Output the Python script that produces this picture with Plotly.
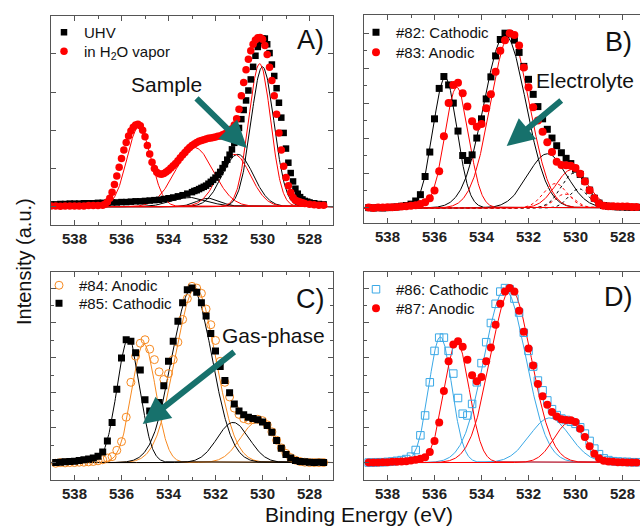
import numpy as np
import plotly.graph_objects as go

# ---------------- data ----------------
# Panel A (UHV vs H2O vapour), binding energies (eV) and intensities (a.u.)
A_UHV_E = [539.0, 538.8, 538.6, 538.4, 538.2, 538.0, 537.8, 537.6, 537.4, 537.2, 537.0, 536.8, 536.6, 536.4,
           536.2, 536.0, 535.8, 535.6, 535.4, 535.2, 535.0, 534.8, 534.6, 534.4, 534.2, 534.0, 533.8, 533.6,
           533.4, 533.2, 533.0, 532.9, 532.8, 532.7, 532.6, 532.5, 532.4, 532.3, 532.2, 532.1, 532.0, 531.9,
           531.8, 531.7, 531.6, 531.5, 531.4, 531.3, 531.2, 531.1, 531.0, 530.9, 530.8, 530.7, 530.6, 530.5,
           530.4, 530.3, 530.2, 530.1, 530.0, 529.9, 529.8, 529.7, 529.6, 529.5, 529.4, 529.3, 529.2, 529.1,
           529.0, 528.9, 528.8, 528.7, 528.6, 528.5, 528.4, 528.3, 528.2, 528.1, 528.0, 527.8, 527.6, 527.4]
A_UHV_I = [0.06, 0.06, 0.07, 0.07, 0.08, 0.08, 0.08, 0.09, 0.09, 0.09, 0.10, 0.10, 0.10, 0.11,
           0.11, 0.12, 0.12, 0.13, 0.14, 0.14, 0.15, 0.16, 0.17, 0.18, 0.20, 0.22, 0.24, 0.27,
           0.30, 0.34, 0.38, 0.41, 0.43, 0.46, 0.49, 0.52, 0.55, 0.60, 0.65, 0.70, 0.76, 0.83,
           0.91, 1.01, 1.11, 1.23, 1.36, 1.50, 1.67, 1.86, 2.06, 2.29, 2.53, 2.78, 3.04, 3.33,
           3.66, 3.95, 4.18, 4.33, 4.40, 4.40, 4.25, 4.02, 3.72, 3.42, 3.10, 2.72, 2.33, 1.93,
           1.52, 1.15, 0.88, 0.66, 0.47, 0.34, 0.25, 0.19, 0.15, 0.13, 0.11, 0.09, 0.07, 0.06]

A_H2O_E = [539.0, 538.8, 538.6, 538.4, 538.2, 538.0, 537.8, 537.6, 537.4, 537.2, 537.0, 536.8, 536.7, 536.6,
           536.5, 536.4, 536.3, 536.2, 536.1, 536.0, 535.9, 535.8, 535.7, 535.6, 535.5, 535.4, 535.3, 535.2,
           535.1, 535.0, 534.9, 534.8, 534.7, 534.6, 534.5, 534.4, 534.3, 534.2, 534.1, 534.0, 533.9, 533.8,
           533.7, 533.6, 533.5, 533.4, 533.3, 533.2, 533.1, 533.0, 532.9, 532.8, 532.7, 532.6, 532.5, 532.4,
           532.3, 532.2, 532.1, 532.0, 531.9, 531.8, 531.7, 531.6, 531.5, 531.4, 531.3, 531.2, 531.1, 531.0,
           530.9, 530.8, 530.7, 530.6, 530.5, 530.4, 530.3, 530.2, 530.1, 530.0, 529.9, 529.8, 529.7, 529.6,
           529.5, 529.4, 529.3, 529.2, 529.1, 529.0, 528.9, 528.8, 528.7, 528.6, 528.5, 528.4, 528.3, 528.2,
           528.0, 527.8, 527.6, 527.4]
A_H2O_I = [0.02, 0.02, 0.01, 0.02, 0.02, 0.02, 0.02, 0.02, 0.03, 0.03, 0.03, 0.04, 0.06, 0.12,
           0.22, 0.38, 0.58, 0.80, 1.03, 1.26, 1.48, 1.68, 1.85, 1.98, 2.08, 2.14, 2.16, 2.12,
           2.00, 1.83, 1.60, 1.38, 1.16, 1.00, 0.90, 0.86, 0.85, 0.87, 0.91, 0.95, 1.01, 1.07,
           1.13, 1.20, 1.28, 1.35, 1.42, 1.49, 1.55, 1.60, 1.64, 1.68, 1.71, 1.73, 1.75, 1.77,
           1.79, 1.80, 1.81, 1.82, 1.84, 1.85, 1.88, 1.91, 1.94, 1.98, 2.04, 2.14, 2.30, 2.55,
           2.90, 3.25, 3.58, 3.86, 4.08, 4.25, 4.36, 4.42, 4.43, 4.38, 4.22, 3.98, 3.65, 3.30,
           2.90, 2.42, 1.93, 1.48, 1.06, 0.76, 0.55, 0.37, 0.24, 0.17, 0.14, 0.12, 0.10, 0.08,
           0.06, 0.05, 0.04, 0.04]

# Panels B-D share the same measured energy grid
E_GRID = [538.8, 538.6, 538.4, 538.2, 538.0, 537.8, 537.6, 537.4, 537.2, 537.0, 536.8, 536.6, 536.4, 536.2,
          536.0, 535.8, 535.6, 535.4, 535.2, 535.0, 534.8, 534.6, 534.4, 534.2, 534.0, 533.8, 533.6, 533.4,
          533.2, 533.0, 532.8, 532.6, 532.4, 532.2, 532.0, 531.8, 531.6, 531.4, 531.2, 531.0, 530.8, 530.6,
          530.4, 530.2, 530.0, 529.8, 529.6, 529.4, 529.2, 529.0, 528.8, 528.6, 528.4, 528.2, 528.0, 527.8,
          527.6, 527.4]

B_82_CATHODIC = [0.01, 0.00, 0.01, 0.00, 0.01, 0.02, 0.03, 0.05, 0.07, 0.11, 0.20, 0.38, 0.90, 1.60,
                 2.55, 3.42, 3.76, 3.52, 3.00, 2.20, 1.50, 1.36, 1.52, 2.00, 2.55, 3.12, 3.75, 4.35,
                 4.82, 5.00, 4.98, 4.80, 4.45, 4.05, 3.68, 3.25, 2.90, 2.55, 2.25, 2.00, 1.78, 1.58,
                 1.42, 1.27, 1.11, 0.96, 0.77, 0.51, 0.28, 0.14, 0.07, 0.05, 0.04, 0.03, 0.03, 0.02,
                 0.02, 0.02]
B_83_ANODIC = [0.01, 0.00, 0.01, 0.01, 0.02, 0.02, 0.03, 0.04, 0.05, 0.06, 0.08, 0.11, 0.16, 0.28,
               0.50, 1.05, 2.05, 3.00, 3.52, 3.58, 3.28, 2.90, 2.48, 2.32, 2.40, 2.85, 3.25, 3.90,
               4.50, 4.80, 5.00, 4.95, 4.65, 4.02, 3.45, 2.88, 2.50, 2.18, 1.88, 1.60, 1.32, 1.23,
               1.22, 1.21, 1.14, 0.98, 0.76, 0.51, 0.28, 0.13, 0.06, 0.05, 0.05, 0.04, 0.04, 0.04,
               0.03, 0.03]
C_84_ANODIC = [-0.02, 0.00, -0.01, 0.00, 0.00, 0.01, 0.01, 0.02, 0.03, 0.05, 0.08, 0.13, 0.17, 0.35,
               0.60, 1.30, 2.30, 3.05, 3.42, 3.52, 3.25, 2.95, 2.60, 2.38, 2.55, 2.95, 3.45, 4.10,
               4.70, 5.05, 5.00, 4.85, 4.40, 3.95, 3.50, 2.90, 2.30, 1.88, 1.56, 1.38, 1.26, 1.22,
               1.23, 1.24, 1.20, 1.08, 0.88, 0.64, 0.42, 0.26, 0.14, 0.07, 0.03, 0.01, 0.00, 0.00,
               0.00, 0.00]
C_85_CATHODIC = [0.00, 0.01, 0.02, 0.03, 0.04, 0.06, 0.08, 0.10, 0.13, 0.18, 0.30, 0.62, 1.15, 2.10,
                 3.00, 3.52, 3.48, 3.15, 2.65, 1.80, 1.48, 1.42, 1.72, 2.20, 2.90, 3.48, 4.05, 4.58,
                 4.95, 5.00, 4.88, 4.58, 4.20, 3.70, 3.20, 2.75, 2.35, 2.00, 1.68, 1.48, 1.37, 1.30,
                 1.26, 1.23, 1.16, 1.06, 0.87, 0.63, 0.41, 0.23, 0.13, 0.06, 0.03, 0.02, 0.01, 0.00,
                 0.01, 0.00]
D_86_CATHODIC = [0.00, 0.00, 0.01, 0.01, 0.02, 0.03, 0.05, 0.07, 0.10, 0.17, 0.36, 0.78, 1.35, 2.30,
                 3.20, 3.58, 3.58, 3.20, 2.55, 1.85, 1.40, 1.35, 1.68, 2.30, 2.85, 3.45, 4.00, 4.55,
                 4.90, 5.00, 4.97, 4.70, 4.30, 3.72, 3.20, 2.75, 2.35, 2.07, 1.78, 1.53, 1.36, 1.26,
                 1.22, 1.17, 1.11, 1.01, 0.83, 0.62, 0.40, 0.24, 0.12, 0.07, 0.04, 0.03, 0.02, 0.02,
                 0.01, 0.01]
D_87_ANODIC = [0.00, 0.00, 0.00, 0.01, 0.01, 0.02, 0.02, 0.03, 0.04, 0.06, 0.08, 0.11, 0.15, 0.30,
               0.62, 1.15, 2.05, 2.90, 3.38, 3.48, 3.32, 2.95, 2.50, 2.33, 2.45, 2.90, 3.30, 3.95,
               4.55, 4.90, 5.00, 4.90, 4.35, 3.75, 3.27, 2.78, 2.25, 1.90, 1.66, 1.45, 1.32, 1.24,
               1.22, 1.21, 1.16, 0.97, 0.73, 0.47, 0.25, 0.12, 0.05, 0.03, 0.02, 0.01, 0.01, 0.00,
               0.00, 0.00]

# Fitted Gaussian components: centre (eV), height, FWHM (eV)
A_UHV_FIT = dict(center=[530.0, 531.05, 532.3, 533.1], height=[3.66, 1.37, 0.22, 0.24], fwhm=[1.15, 1.55, 1.2, 1.8])
A_H2O_FIT = dict(center=[530.12, 531.2, 532.9, 535.25], height=[3.74, 1.37, 1.55, 2.1], fwhm=[1.1, 1.6, 1.9, 1.2])
B_82_FIT = dict(center=[535.55, 533.0, 531.2], height=[3.72, 4.95, 1.55], fwhm=[1.2, 2.1, 1.95])
B_82_FIT_DOT = dict(center=[530.05, 529.85], height=[1.0, 0.55], fwhm=[1.3, 1.0])
B_83_FIT = dict(center=[535.05, 532.78, 530.15], height=[3.45, 4.95, 1.1], fwhm=[1.2, 1.95, 1.6])
B_83_FIT_DOT = dict(center=[530.85, 530.45], height=[0.7, 0.4], fwhm=[1.2, 1.0])
C_84_FIT = dict(center=[535.05, 532.85, 530.2], height=[3.4, 5.0, 1.18], fwhm=[1.2, 2.0, 1.7])
C_85_FIT = dict(center=[535.7, 533.0, 531.25], height=[3.55, 5.0, 1.15], fwhm=[1.15, 2.0, 1.6])
D_86_FIT = dict(center=[535.75, 533.0, 531.1], height=[3.6, 4.95, 1.28], fwhm=[1.15, 2.1, 2.0])
D_87_FIT = dict(center=[535.05, 532.75, 530.25], height=[3.45, 4.95, 1.15], fwhm=[1.25, 2.05, 1.55])

X_TICKS = [538, 536, 534, 532, 530, 528]

# ---------------- styling ----------------
W, H = 640, 527
BLACK = "#000000"
RED = "#ff0000"
ORANGE = "#f7891f"
BLUE = "#3aa8e6"
TEAL = "#17716c"
AXC = "#555555"
FONT = "Liberation Sans, Arial, sans-serif"


def px_x(p):
    return p / W


def px_y(p):
    return 1 - p / H


FIT_X = np.linspace(526.9, 539.1, 611)


def gauss(c, h, fwhm):
    s = fwhm / 2.3548
    return h * np.exp(-0.5 * ((FIT_X - c) / s) ** 2)


fig = go.Figure()


def add_fits(fit, color, ax, dash="solid", width=1.0):
    for c, h, w in zip(fit["center"], fit["height"], fit["fwhm"]):
        fig.add_trace(go.Scatter(x=FIT_X, y=gauss(c, h, w), mode="lines", xaxis="x" + ax, yaxis="y" + ax,
                                 line=dict(color=color, width=width, dash=dash), showlegend=False,
                                 hoverinfo="skip"))


def add_data(x, y, name, ax, legend, symbol, color, size, open_=False):
    if open_:
        marker = dict(symbol=symbol + "-open", size=size, color=color, line=dict(width=1, color=color))
    else:
        marker = dict(symbol=symbol, size=size, color=color, line=dict(width=0))
    fig.add_trace(go.Scatter(x=x, y=y, mode="markers", name=name, xaxis="x" + ax, yaxis="y" + ax,
                             marker=marker, legend=legend))


# Panel A
add_fits(A_UHV_FIT, BLACK, "")
add_fits(A_H2O_FIT, RED, "")
add_data(A_UHV_E, A_UHV_I, "UHV", "", "legend", "square", BLACK, 6.5)
add_data(A_H2O_E, A_H2O_I, "in H<sub>2</sub>O vapor", "", "legend2", "circle", RED, 7.5)

# Panel B
add_fits(B_82_FIT, BLACK, "2")
add_fits(B_82_FIT_DOT, BLACK, "2", dash="dot")
add_fits(B_83_FIT, RED, "2")
add_fits(B_83_FIT_DOT, RED, "2", dash="dot")
add_data(E_GRID, B_82_CATHODIC, "#82: Cathodic", "2", "legend3", "square", BLACK, 7)
add_data(E_GRID, B_83_ANODIC, "#83: Anodic", "2", "legend4", "circle", RED, 8)

# Panel C
add_fits(C_84_FIT, ORANGE, "3")
add_fits(C_85_FIT, BLACK, "3")
add_data(E_GRID, C_84_ANODIC, "#84: Anodic", "3", "legend5", "circle", ORANGE, 8, open_=True)
add_data(E_GRID, C_85_CATHODIC, "#85: Cathodic", "3", "legend6", "square", BLACK, 7)

# Panel D
add_fits(D_86_FIT, BLUE, "4")
add_fits(D_87_FIT, RED, "4")
add_data(E_GRID, D_86_CATHODIC, "#86: Cathodic", "4", "legend7", "square", BLUE, 7.5, open_=True)
add_data(E_GRID, D_87_ANODIC, "#87: Anodic", "4", "legend8", "circle", RED, 8)


def xaxis(domain, rng, anchor):
    return dict(domain=domain, range=rng, anchor=anchor, showline=True, linecolor=AXC, linewidth=1,
                mirror="ticks", ticks="inside", ticklen=5, tickcolor=AXC,
                tickvals=X_TICKS, ticktext=[str(t) for t in X_TICKS],
                tickfont=dict(family=FONT, size=15, color="#222222", weight="bold"),
                minor=dict(ticks="inside", ticklen=3, tickcolor=AXC, dtick=1, tick0=528, showgrid=False),
                showgrid=False, zeroline=False, fixedrange=True)


def yaxis(domain, rng, anchor, mirror, minor):
    d = dict(domain=domain, range=rng, anchor=anchor, showline=True, linecolor=AXC, linewidth=1,
             mirror="ticks" if mirror else False, ticks="inside", ticklen=5, tickcolor=AXC,
             tick0=0, dtick=1, showticklabels=False, showgrid=False, zeroline=False, fixedrange=True)
    if minor:
        d["minor"] = dict(ticks="inside", ticklen=3, tickcolor=AXC, dtick=0.5, tick0=0, showgrid=False)
    return d


XA = [px_x(51), px_x(333)]
XB = [px_x(364), 1.0]
B_RIGHT = 527.0 + (646 - 640) / 23.5

fig.update_layout(
    width=W, height=H, margin=dict(l=0, r=0, t=0, b=0),
    paper_bgcolor="white", plot_bgcolor="white",
    font=dict(family=FONT, color="#222222"),
    xaxis=xaxis(XA, [539, 527], "y"),
    yaxis=yaxis([px_y(225), px_y(16)], [-0.48, 4.99], "x", True, False),
    xaxis2=xaxis(XB, [539, B_RIGHT], "y2"),
    yaxis2=yaxis([px_y(223), px_y(15)], [-0.43, 5.52], "x2", False, True),
    xaxis3=xaxis(XA, [539, 527], "y3"),
    yaxis3=yaxis([px_y(480), px_y(271.7)], [-0.50, 5.47], "x3", True, True),
    xaxis4=xaxis(XB, [539, B_RIGHT], "y4"),
    yaxis4=yaxis([px_y(480), px_y(271.7)], [-0.50, 5.47], "x4", False, True),
)

# one legend per entry so each row sits where the reference puts it: (text start x, row centre y)
LEGEND_POS = {"legend": (81, 32), "legend2": (81, 51), "legend3": (393, 32), "legend4": (393, 52),
              "legend5": (76, 285), "legend6": (76, 303), "legend7": (393, 289), "legend8": (393, 308)}
leg_common = dict(bgcolor="rgba(0,0,0,0)", borderwidth=0, font=dict(family=FONT, size=15, color="#111111"),
                  xanchor="left", yanchor="top", itemwidth=30)
fig.update_layout(**{k: dict(x=px_x(tx - 37), y=px_y(cy - 16), **leg_common) for k, (tx, cy) in LEGEND_POS.items()})

ann = []


def text(t, x, y, size, **kw):
    ann.append(dict(text=t, x=px_x(x), y=px_y(y), xref="paper", yref="paper", showarrow=False,
                    xanchor="center", yanchor="middle", font=dict(family=FONT, size=size, color="#111111"), **kw))


def arrow(head, tail):
    ann.append(dict(text="", x=px_x(head[0]), y=px_y(head[1]), xref="paper", yref="paper", showarrow=True,
                    ax=tail[0] - head[0], ay=tail[1] - head[1], axref="pixel", ayref="pixel",
                    arrowhead=2, arrowsize=0.9, arrowwidth=6, arrowcolor=TEAL, standoff=0, startstandoff=0))


text("A)", 310, 40, 27)
text("B)", 618, 42, 27)
text("C)", 310, 299, 27)
text("D)", 618, 297, 27)
text("Sample", 166, 85, 21)
text("Electrolyte", 585, 80, 21)
text("Gas-phase", 273, 335, 21)
arrow((247, 148), (195, 97))
arrow((506.7, 146), (562.7, 99.3))
arrow((142.7, 424), (235.7, 350.7))
text("Binding Energy (eV)", 359, 514, 21)
text("Intensity (a.u.)", 24, 262, 20, textangle=-90)

fig.update_layout(annotations=ann)
fig.write_html("out.html", config={"displayModeBar": False},
               post_script="document.body.style.margin='0px';")
